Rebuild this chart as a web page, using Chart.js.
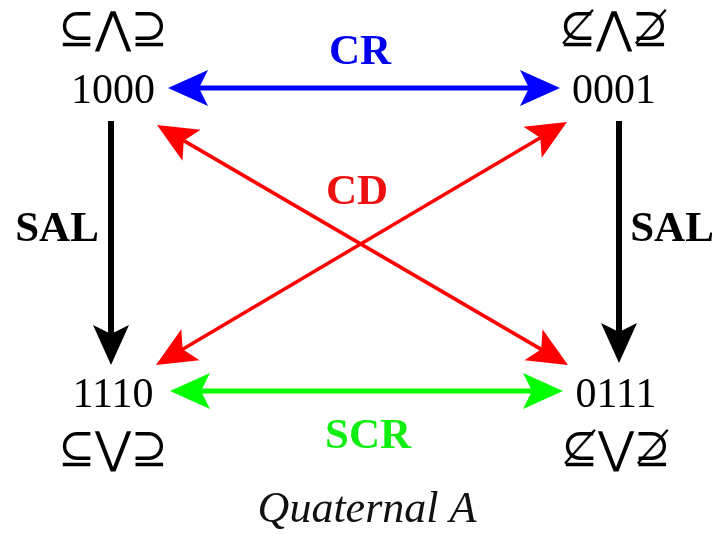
<!DOCTYPE html>
<html>
<head>
<meta charset="utf-8">
<script src="https://cdn.jsdelivr.net/npm/chart.js@4.4.1/dist/chart.umd.min.js"></script>
<style>
  html, body { margin: 0; padding: 0; background: #fff; }
  #wrap { width: 722px; height: 534px; }
</style>
</head>
<body>
<div id="wrap"><canvas id="quaternal" width="722" height="534"></canvas></div>
<script>
// Nodes of the quaternal (diagram coordinates, y grows downward)
var nodeLabels = ['1000', '0001', '1110', '0111'];
var nodeX = [113, 614, 113, 616];
var nodeY = [92, 92, 396, 396];

// Operator strings above / below the nodes
var symbolLabels = ['\u2286\u22C0\u2287', '\u2288\u22C0\u2289', '\u2286\u22C1\u2287', '\u2288\u22C1\u2289'];
var symbolY = [32, 32, 452, 452];

// Arrows: start / end tips, which ends carry a head
var arrowNames = ['CR', 'SCR', 'SAL', 'SAL', 'CD', 'CD'];
var arrowX0 = [168, 170, 111, 619, 157, 567];
var arrowY0 = [88, 391, 121, 121, 125, 122];
var arrowX1 = [560, 563, 111, 619, 568, 156];
var arrowY1 = [88, 391, 365, 363, 365, 365];
var headAtStart = [true, true, false, false, true, true];
var headAtEnd = [true, true, true, true, true, true];

// Arrow name label positions
var nameX = [360, 368, 57, 672, 357, 0];
var nameY = [53, 437, 230, 230, 193, 0];

var caption = 'Quaternal A';

var arrowColors = ['#0000ff', '#00ff00', '#000000', '#000000', '#ff0000', '#ff0000'];
var textColors = ['#0000ee', '#11ee11', '#000000', '#000000', '#ee1111', '#ee1111'];
var lineWidths = [5, 5, 6, 6, 3.5, 3.5];
var HEAD_LEN = 40, HEAD_HALF = 18, HEAD_NOTCH = 31;

function shrink(x0, y0, x1, y1, d) {
  var len = Math.hypot(x1 - x0, y1 - y0);
  return { x: x0 + (x1 - x0) * d / len, y: y0 + (y1 - y0) * d / len };
}

var datasets = arrowNames.map(function(name, i) {
  var a = { x: arrowX0[i], y: arrowY0[i] };
  var b = { x: arrowX1[i], y: arrowY1[i] };
  if (headAtStart[i]) a = shrink(arrowX0[i], arrowY0[i], arrowX1[i], arrowY1[i], HEAD_NOTCH - 2);
  if (headAtEnd[i]) b = shrink(arrowX1[i], arrowY1[i], arrowX0[i], arrowY0[i], HEAD_NOTCH - 2);
  return {
    label: name,
    data: [a, b],
    showLine: true,
    borderColor: arrowColors[i],
    borderWidth: lineWidths[i],
    pointRadius: 0,
    fill: false
  };
});

function drawHead(ctx, tx, ty, fx, fy, color) {
  var ang = Math.atan2(ty - fy, tx - fx);
  ctx.save();
  ctx.translate(tx, ty);
  ctx.rotate(ang);
  ctx.beginPath();
  ctx.moveTo(0, 0);
  ctx.lineTo(-HEAD_LEN, -HEAD_HALF);
  ctx.lineTo(-HEAD_NOTCH, 0);
  ctx.lineTo(-HEAD_LEN, HEAD_HALF);
  ctx.closePath();
  ctx.fillStyle = color;
  ctx.fill();
  ctx.restore();
}

var diagramPlugin = {
  id: 'diagram',
  afterDatasetsDraw: function(chart) {
    var ctx = chart.ctx;
    var sx = chart.scales.x, sy = chart.scales.y;
    var i;
    for (i = 0; i < arrowNames.length; i++) {
      var x0 = sx.getPixelForValue(arrowX0[i]), y0 = sy.getPixelForValue(arrowY0[i]);
      var x1 = sx.getPixelForValue(arrowX1[i]), y1 = sy.getPixelForValue(arrowY1[i]);
      if (headAtStart[i]) drawHead(ctx, x0, y0, x1, y1, arrowColors[i]);
      if (headAtEnd[i]) drawHead(ctx, x1, y1, x0, y0, arrowColors[i]);
    }
    ctx.save();
    ctx.textAlign = 'center';
    ctx.textBaseline = 'middle';
    // node codes
    ctx.fillStyle = '#000';
    ctx.font = '42px "Liberation Serif", "Times New Roman", serif';
    for (i = 0; i < nodeLabels.length; i++) {
      ctx.fillText(nodeLabels[i], sx.getPixelForValue(nodeX[i]), sy.getPixelForValue(nodeY[i]));
    }
    // operator symbols
    ctx.font = '44px "DejaVu Serif", serif';
    for (i = 0; i < symbolLabels.length; i++) {
      ctx.fillText(symbolLabels[i], sx.getPixelForValue(nodeX[i]), sy.getPixelForValue(symbolY[i]));
    }
    // arrow names (the two CD arrows share one label)
    ctx.font = 'bold 43px "Liberation Serif", "Times New Roman", serif';
    for (i = 0; i < arrowNames.length; i++) {
      if (!nameX[i]) continue;
      ctx.fillStyle = textColors[i];
      ctx.fillText(arrowNames[i], sx.getPixelForValue(nameX[i]), sy.getPixelForValue(nameY[i]));
    }
    // caption
    ctx.fillStyle = '#111';
    ctx.font = 'italic 44px "Liberation Serif", serif';
    ctx.fillText(caption, sx.getPixelForValue(367), sy.getPixelForValue(510));
    ctx.restore();
  }
};

new Chart(document.getElementById('quaternal'), {
  type: 'scatter',
  data: { datasets: datasets },
  options: {
    responsive: false,
    animation: false,
    layout: { padding: 0 },
    plugins: { legend: { display: false }, tooltip: { enabled: false } },
    scales: {
      x: { type: 'linear', min: 0, max: 722, display: false },
      y: { type: 'linear', min: 0, max: 534, reverse: true, display: false }
    }
  },
  plugins: [diagramPlugin]
});
</script>
</body>
</html>
